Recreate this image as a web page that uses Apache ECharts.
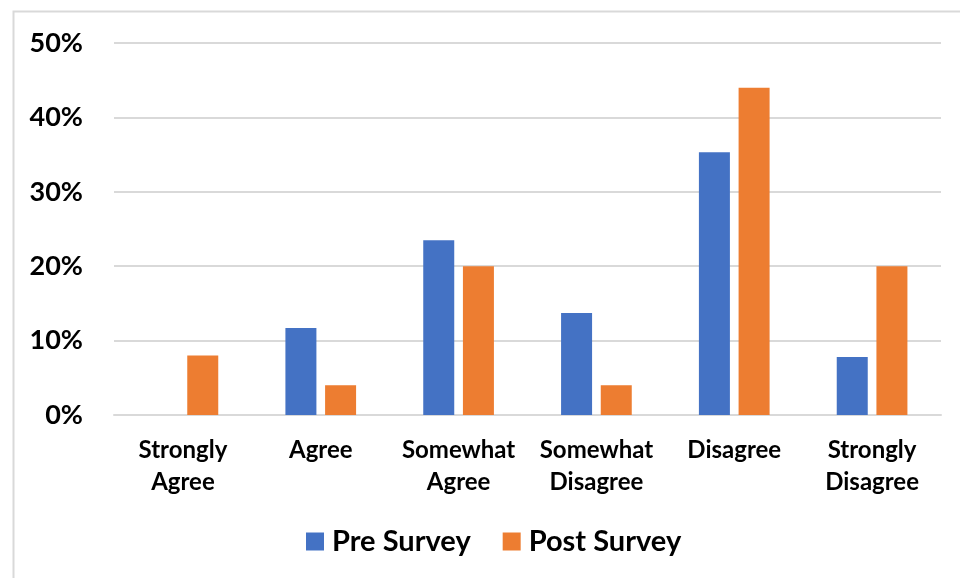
<!DOCTYPE html>
<html>
<head>
<meta charset="utf-8">
<script src="https://cdn.jsdelivr.net/npm/echarts@6/dist/echarts.min.js"></script>
<style>
html,body{margin:0;padding:0;background:#fff;}
#chart{width:960px;height:578px;}
</style>
</head>
<body>
<div id="chart"></div>
<script>
var categories = ['Strongly\nAgree', 'Agree', 'Somewhat\nAgree', 'Somewhat\nDisagree', 'Disagree', 'Strongly\nDisagree'];
var preSurvey = [0, 11.7, 23.5, 13.7, 35.3, 7.8];
var postSurvey = [8, 4, 20, 4, 44, 20];
var seriesNames = ['Pre Survey', 'Post Survey'];

var chart = echarts.init(document.getElementById('chart'));
chart.setOption({
  animation: false,
  textStyle: { fontFamily: 'Lato' },
  graphic: [{
    type: 'rect', left: 11, top: 9,
    shape: { width: 1000, height: 1000 },
    style: { fill: 'none', stroke: '#d9d9d9', lineWidth: 2 },
    silent: true
  }],
  grid: { left: 114, right: 19, top: 43, bottom: 163 },
  legend: {
    top: 522, left: 301,
    itemWidth: 18, itemHeight: 18, itemGap: 32,
    icon: 'rect',
    textStyle: { fontSize: 29, fontWeight: 'bold', color: '#000', fontFamily: 'Lato', padding: [0, 0, 0, 3] },
    data: seriesNames
  },
  xAxis: {
    type: 'category',
    data: categories,
    axisLine: { show: true, lineStyle: { color: '#d9d9d9', width: 2 } },
    axisTick: { show: false },
    axisLabel: { fontSize: 24, fontWeight: 'bold', color: '#000', lineHeight: 32, margin: 19, interval: 0 }
  },
  yAxis: {
    type: 'value', min: 0, max: 50, interval: 10,
    axisLine: { show: false }, axisTick: { show: false },
    splitLine: { lineStyle: { color: '#d9d9d9', width: 2 } },
    axisLabel: { formatter: '{value}%', fontSize: 27, fontWeight: 'bold', color: '#000', margin: 31 }
  },
  series: [
    { name: seriesNames[0], type: 'bar', data: preSurvey, barWidth: 31, barGap: '28%', itemStyle: { color: '#4472C4' } },
    { name: seriesNames[1], type: 'bar', data: postSurvey, barWidth: 31, barGap: '28%', itemStyle: { color: '#ED7D31' } }
  ]
});
</script>
</body>
</html>
